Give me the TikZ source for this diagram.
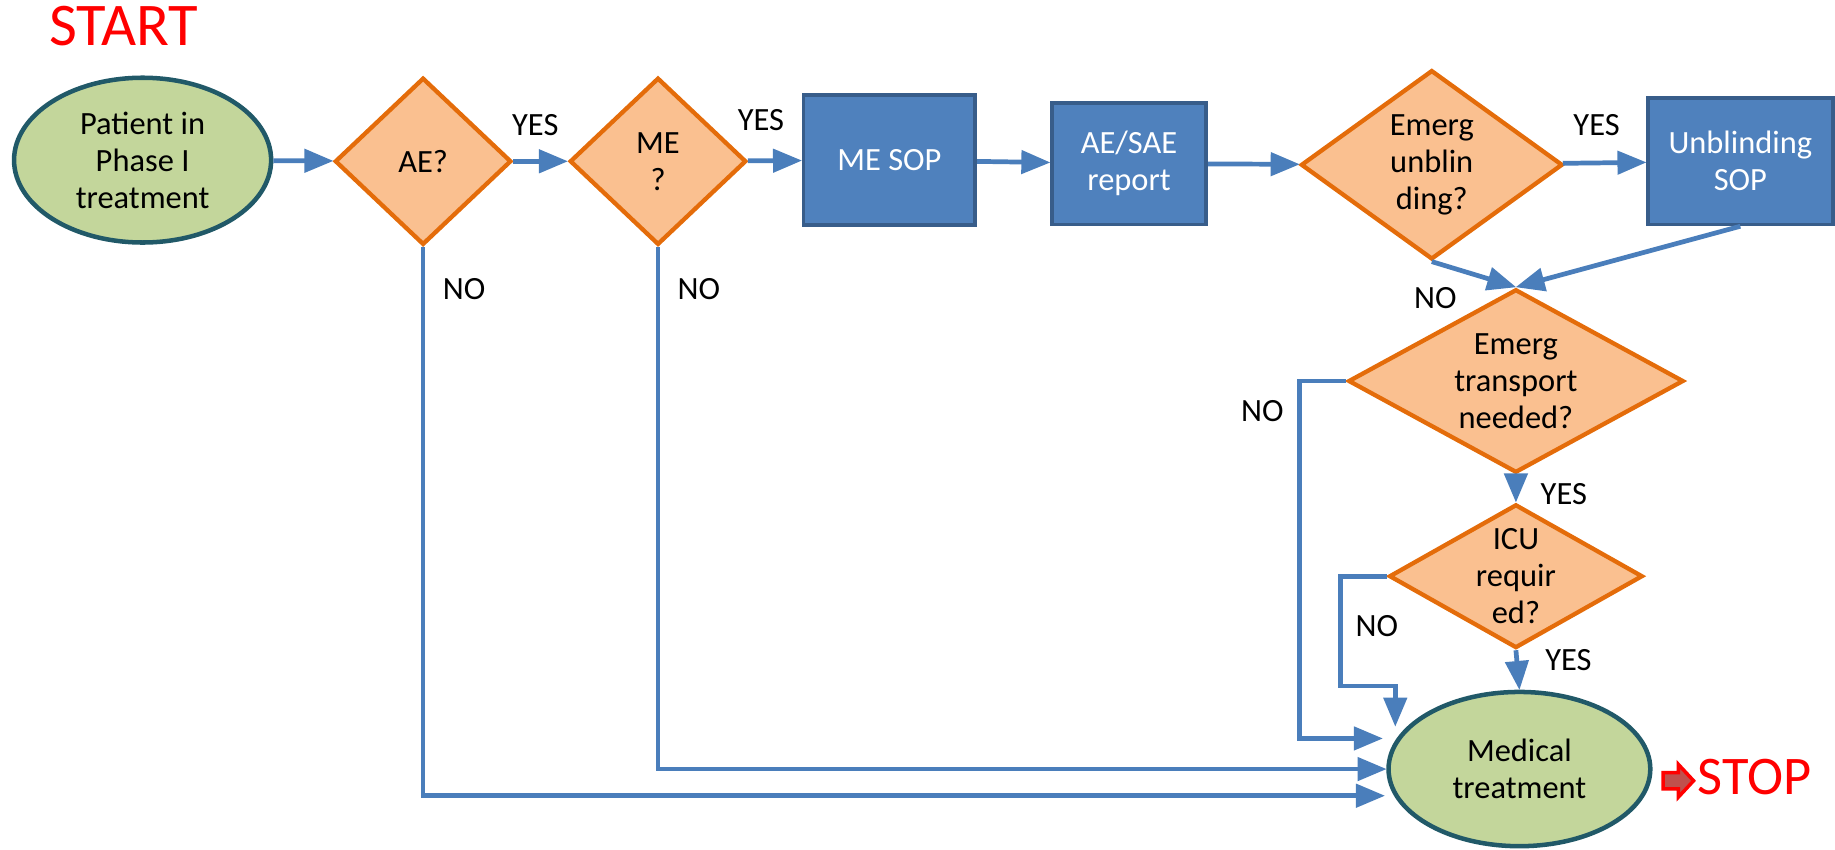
\documentclass[tikz,border=0pt]{standalone}
\usepackage{fontspec}
\setmainfont{Carlito}
\usepackage{tikz}
\usetikzlibrary{shapes.geometric}
\usetikzlibrary{positioning}
\usetikzlibrary{arrows}
\definecolor{termfill}{HTML}{C3D69B}
\definecolor{termline}{HTML}{215968}
\definecolor{decfill}{HTML}{FAC090}
\definecolor{decline}{HTML}{E46C0A}
\definecolor{procfill}{HTML}{4F81BD}
\definecolor{procline}{HTML}{385D8A}
\definecolor{flowblue}{HTML}{4A7EBB}
\definecolor{stopfill}{HTML}{C0504D}
\tikzset{x=0.02cm, y=-0.02cm, % one unit per pixel of the sketch
>=triangle 45,
every node/.style={font=\fontsize{15.8}{18}\selectfont},
terminal/.style={ % Green start and end ellipses
ellipse,
draw=termline,
fill=termfill,
line width=2.2pt,
align=center,
inner sep=0pt},
decision/.style={ % Orange question diamonds, text set as a centre label
diamond,
draw=decline,
fill=decfill,
line width=2.1pt,
inner sep=0pt},
question/.style={align=center},
process/.style={ % Blue SOP and report boxes
rectangle,
draw=procline,
fill=procfill,
line width=1.8pt,
text=white,
align=center},
answer/.style={text=black},
title/.style={text=red, font=\fontsize{29.5}{35}\selectfont},
stoparrow/.style={draw=red, fill=stopfill, line width=1.7pt, line join=miter},
flow/.style={ % Sets the properties for each connector
draw=flowblue,
->,
line width=2.3pt}}

\begin{document}
\begin{tikzpicture}
\useasboundingbox (0,0) rectangle (1570,727);
\node[title] (start) at (106,22) {START};
\node[terminal, minimum width=4.4cm, minimum height=2.82cm] (patient) at (122,137) {Patient in\\Phase I\\treatment};
\node[decision, minimum width=3.02cm, minimum height=2.86cm, label={[question]center:AE?}] (ae) at (362,138) {};
\node[decision, minimum width=3.02cm, minimum height=2.86cm, label={[question]center:{ME\\?}}] (me) at (563,138) {};
\node[process, minimum width=2.94cm, minimum height=2.22cm] (mesop) at (761,137) {ME SOP};
\node[process, minimum width=2.64cm, minimum height=2.08cm] (report) at (966,140) {AE/SAE\\report};
\node[decision, minimum width=4.48cm, minimum height=3.24cm, label={[question]center:{Emerg\\unblin\\ding?}}] (unblind) at (1225,141) {};
\node[process, minimum width=3.16cm, minimum height=2.16cm] (ubsop) at (1489,138) {Unblinding\\SOP};
\node[decision, minimum width=5.74cm, minimum height=3.14cm, label={[question]center:{Emerg\\transport\\needed?}}] (transport) at (1297,326) {};
\node[decision, minimum width=4.34cm, minimum height=2.46cm, label={[question]center:{ICU\\requir\\ed?}}] (icu) at (1297,493) {};
\node[terminal, minimum width=4.48cm, minimum height=2.64cm] (medical) at (1300,658) {Medical\\treatment};
\node[title, font=\fontsize{26.5}{32}\selectfont] (stop) at (1501,665) {STOP};
\draw[stoparrow] (1423,661) -- (1436,661) -- (1436,654) -- (1449,668) -- (1436,682) -- (1436,675) -- (1423,675) -- cycle;

% answers
\node[answer] (aeyes) at (458,107) {YES};
\node[answer] (meyes) at (651,103) {YES};
\node[answer] (unblindyes) at (1366,107) {YES};
\node[answer] (aeno) at (397,247) {NO};
\node[answer] (meno) at (598,247) {NO};
\node[answer] (unblindno) at (1228,255) {NO};
\node[answer] (transportno) at (1080,352) {NO};
\node[answer] (transportyes) at (1338,423) {YES};
\node[answer] (icuno) at (1178,536) {NO};
\node[answer] (icuyes) at (1342,565) {YES};

% connectors
\draw[flow] (patient) -- (ae);
\draw[flow] (ae) -- (me);
\draw[flow] (me) -- (mesop);
\draw[flow] (mesop) -- (report);
\draw[flow] (report) -- (unblind);
\draw[flow] (unblind) -- (ubsop);
\draw[flow] (ubsop.south) -- (transport.north);
\draw[flow] (unblind.south) -- (transport.north);
\draw[flow] (transport.south) -- (icu.north);
\draw[flow] (icu.south) -- (medical.north);
\draw[flow, shorten >=0.24cm] (transport.west) -- ++(-40,0) |- (medical.166);
\draw[flow, shorten >=0.24cm] (icu.west) -- ++(-40,0) -- ++(0,94) -| (medical.167);
\draw[flow] (me.south) |- (medical.west);
\draw[flow, shorten >=0.16cm] (ae.south) |- (medical.192);
\end{tikzpicture}
\end{document}
